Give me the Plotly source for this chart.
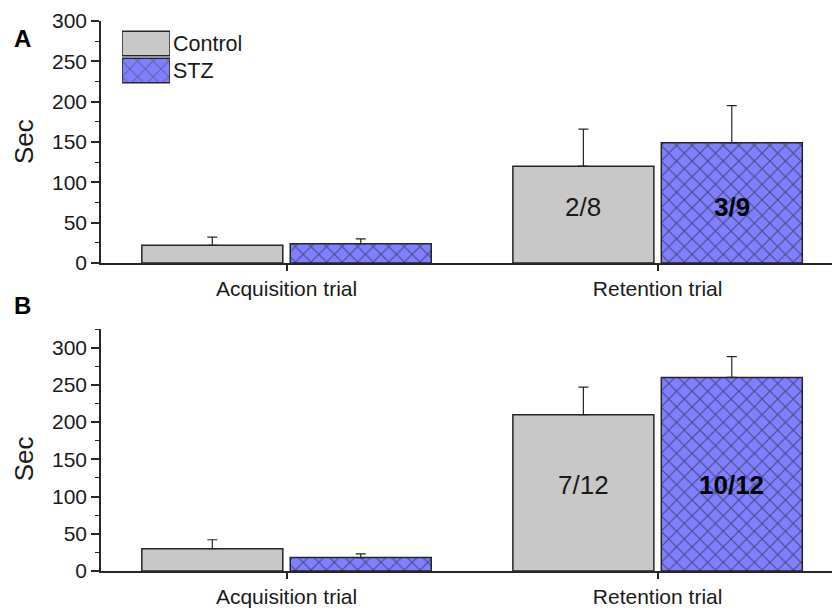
import plotly.graph_objects as go

# ---------------- data ----------------
categories = ["Acquisition trial", "Retention trial"]
series_names = ["Control", "STZ"]

a_control = [22, 120]
a_control_err = [10, 46]
a_stz = [24, 149]
a_stz_err = [6, 46]

b_control = [30, 210]
b_control_err = [12, 37]
b_stz = [18, 260]
b_stz_err = [5, 28]

a_ratio_control = ["", "2/8"]
a_ratio_stz = ["", "3/9"]
b_ratio_control = ["", "7/12"]
b_ratio_stz = ["", "10/12"]

y_ticks = [0, 50, 100, 150, 200, 250, 300]
panel_labels = ["A", "B"]

# ---------------- style ----------------
FONT = "Liberation Sans, Arial, sans-serif"
TXT = "#1a1a1a"
CTRL_FILL = "#c8c8c8"
STZ_FILL = "#8080ff"
EDGE = "#262626"
W, H = 832, 611
BARGAP = 0.2
OFF = (1 - BARGAP) / 4
PAT = dict(fgcolor="#111111", fillmode="overlay", size=11, solidity=0.2)

xs = list(range(len(categories)))

fig = go.Figure()


def add_panel(ctrl, ctrl_err, stz, stz_err, xa, ya):
    fig.add_trace(go.Bar(
        x=xs, y=ctrl, name=series_names[0], xaxis=xa, yaxis=ya,
        marker=dict(color=CTRL_FILL, line=dict(color=EDGE, width=1.5)),
        error_y=dict(type="data", array=ctrl_err, arrayminus=[0] * len(ctrl),
                     symmetric=False, color=EDGE, thickness=1.2, width=5),
        showlegend=False,
    ))
    fig.add_trace(go.Bar(
        x=xs, y=stz, name=series_names[1], xaxis=xa, yaxis=ya,
        marker=dict(color=STZ_FILL, line=dict(color=EDGE, width=1.5),
                    pattern=dict(shape="x", **PAT)),
        error_y=dict(type="data", array=stz_err, arrayminus=[0] * len(stz),
                     symmetric=False, color=EDGE, thickness=1.2, width=5),
        showlegend=False,
    ))


add_panel(a_control, a_control_err, a_stz, a_stz_err, "x", "y")
add_panel(b_control, b_control_err, b_stz, b_stz_err, "x2", "y2")

# legend swatches drawn as bars on a small dedicated axis
fig.add_trace(go.Bar(
    y=[0, 1], x=[1, 1], orientation="h", xaxis="x3", yaxis="y3",
    width=[0.9, 0.9],
    text=[series_names[1], series_names[0]], textposition="outside",
    cliponaxis=False, constraintext="none",
    textfont=dict(family=FONT, size=21.5, color=TXT),
    marker=dict(color=[STZ_FILL, CTRL_FILL], line=dict(color=EDGE, width=1.5),
                pattern=dict(shape=["x", ""], **PAT)),
    showlegend=False, hoverinfo="skip",
))


def ydom(top_px, bot_px):
    return [1 - bot_px / H, 1 - top_px / H]


xdom = [101 / W, 1.0]
xr = [-0.5, 1.47]

axis_common_x = dict(
    domain=xdom, range=xr, tickvals=xs, ticktext=categories,
    showline=True, linecolor=EDGE, linewidth=1.5, ticks="outside", ticklen=6,
    tickwidth=1.5, tickcolor=EDGE, showgrid=False, zeroline=False,
    tickfont=dict(family=FONT, size=21, color=TXT), automargin=False,
)
axis_common_y = dict(
    tickvals=y_ticks, showline=True, linecolor=EDGE, linewidth=1.5,
    ticks="outside", ticklen=8, tickwidth=1.5, tickcolor=EDGE,
    minor=dict(dtick=25, ticks="outside", ticklen=4, tickwidth=1.2, tickcolor=EDGE),
    showgrid=False, zeroline=False,
    tickfont=dict(family=FONT, size=21, color=TXT), automargin=False,
)

fig.update_layout(
    width=W, height=H,
    margin=dict(l=0, r=0, t=0, b=0),
    paper_bgcolor="white", plot_bgcolor="white",
    barmode="group", bargap=BARGAP, bargroupgap=0.05,
    showlegend=False,
    xaxis=dict(**axis_common_x, anchor="y"),
    yaxis=dict(**axis_common_y, domain=ydom(21, 263), range=[0, 300], anchor="x"),
    xaxis2=dict(**axis_common_x, anchor="y2"),
    yaxis2=dict(**axis_common_y, domain=ydom(329, 571), range=[0, 325], anchor="x2"),
    xaxis3=dict(domain=[122 / W, 170 / W], range=[0, 1], visible=False, anchor="y3",
                fixedrange=True),
    yaxis3=dict(domain=ydom(30, 84), range=[-0.5, 1.5], visible=False, anchor="x3",
                fixedrange=True),
)

annots = []
for xa, ya, ctrl_lab, stz_lab, yv in [("x", "y", a_ratio_control, a_ratio_stz, 69),
                                      ("x2", "y2", b_ratio_control, b_ratio_stz, 115)]:
    for i in xs:
        if ctrl_lab[i]:
            annots.append(dict(x=i - OFF, y=yv, xref=xa, yref=ya, text=ctrl_lab[i],
                               showarrow=False,
                               font=dict(family=FONT, size=26, color=TXT)))
        if stz_lab[i]:
            annots.append(dict(x=i + OFF, y=yv, xref=xa, yref=ya,
                               text="<b>" + stz_lab[i] + "</b>", showarrow=False,
                               font=dict(family=FONT, size=26, color="#000000")))

for ya in ["y", "y2"]:
    annots.append(dict(x=24 / W, y=150, xref="paper", yref=ya, text="Sec",
                       textangle=-90, showarrow=False, xanchor="center",
                       yanchor="middle",
                       font=dict(family=FONT, size=26, color=TXT)))

for lab, ypx in zip(panel_labels, [23, 305]):
    annots.append(dict(x=12 / W, y=1 - ypx / H, xref="paper", yref="paper",
                       text="<b>" + lab + "</b>", showarrow=False, xanchor="left",
                       font=dict(family=FONT, size=24, color="#000000")))

fig.update_layout(annotations=annots)

fig.write_html(
    "out.html",
    config={"displayModeBar": False},
    post_script="document.body.style.margin='0';document.body.style.overflow='hidden';",
)
